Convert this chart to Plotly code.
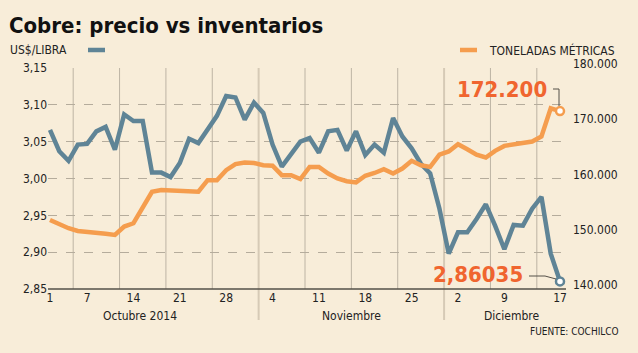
import plotly.graph_objects as go

# ---- data ----
days = list(range(56))  # trading days 1 Oct – 17 Dec 2014
precio = [3.066, 3.037, 3.024, 3.046, 3.047, 3.064, 3.070, 3.039, 3.087, 3.078,
          3.078, 3.008, 3.008, 3.002, 3.021, 3.054, 3.048, 3.066, 3.085, 3.112,
          3.110, 3.080, 3.103, 3.089, 3.046, 3.016, 3.032, 3.050, 3.055, 3.035,
          3.064, 3.066, 3.038, 3.064, 3.032, 3.046, 3.035, 3.082, 3.057, 3.041,
          3.020, 3.007, 2.959, 2.898, 2.927, 2.927, 2.945, 2.965, 2.936, 2.904,
          2.937, 2.936, 2.959, 2.975, 2.898, 2.86035]
toneladas = [152500, 151700, 151000, 150500, 150400, 150100, 150000, 149800, 151300, 151900,
             154600, 157600, 157900, 157800, 157700, 157700, 157600, 159700, 159700, 161500,
             162600, 162900, 162800, 162400, 162300, 160600, 160600, 159900, 162100, 162100,
             160900, 160000, 159500, 159300, 160500, 161000, 161700, 160900, 161800, 163200,
             162400, 162100, 164300, 164900, 166200, 165300, 164300, 163800, 165000, 165900,
             166200, 166600, 166700, 167600, 172700, 172200]
tick_idx = [0, 4, 9, 14, 19, 24, 29, 34, 39, 44, 49, 55]
tick_txt = ["1", "7", "14", "21", "28", "4", "11", "18", "25", "2", "9", "17"]
week_breaks = [2.5, 7.5, 12.5, 17.5, 22.5, 27.5, 32.5, 37.5, 42.5, 47.5, 52.5]
month_breaks = [22.5, 42.5]
months = ["Octubre 2014", "Noviembre", "Diciembre"]
month_centers = [9.7, 32.5, 49.8]

BG = "#F8EDD9"
BLUE = "#5F8496"
ORANGE = "#F59D4E"
RED = "#F0652F"
FONT = "DejaVu Sans Condensed"

W, H = 638, 353
L, R, T, B = 48, 72, 68, 64
PW, PH = W - L - R, H - T - B


def px(x):
    return (x - L) / PW


def py(y):
    return (H - B - y) / PH


fig = go.Figure()
fig.add_trace(go.Scatter(x=days, y=toneladas, yaxis="y2", mode="lines",
                         line=dict(color=ORANGE, width=4.5), hoverinfo="skip"))
fig.add_trace(go.Scatter(x=days, y=precio, mode="lines",
                         line=dict(color=BLUE, width=4.5), hoverinfo="skip"))
fig.add_trace(go.Scatter(x=[days[-1]], y=[toneladas[-1]], yaxis="y2", mode="markers",
                         marker=dict(color="white", size=8, line=dict(color=ORANGE, width=2.5)),
                         cliponaxis=False, hoverinfo="skip"))
fig.add_trace(go.Scatter(x=[days[-1]], y=[precio[-1]], mode="markers",
                         marker=dict(color="white", size=8, line=dict(color=BLUE, width=2.5)),
                         cliponaxis=False, hoverinfo="skip"))

shapes = []
for wb in week_breaks:
    if wb in month_breaks:
        shapes.append(dict(type="line", xref="x", yref="paper", x0=wb, x1=wb,
                           y0=py(320), y1=1, line=dict(color="#D6CAB6", width=2), layer="below"))
    else:
        shapes.append(dict(type="line", xref="x", yref="paper", x0=wb, x1=wb,
                           y0=0, y1=1, line=dict(color="#BDB4A4", width=1), layer="below"))
# axis base line
shapes.append(dict(type="line", xref="paper", yref="paper", x0=0, x1=1, y0=0, y1=0,
                   line=dict(color="#555049", width=1.5)))
# legend swatches
shapes.append(dict(type="line", xref="paper", yref="paper", x0=px(88), x1=px(105),
                   y0=py(50), y1=py(50), line=dict(color=BLUE, width=4.5)))
shapes.append(dict(type="line", xref="paper", yref="paper", x0=px(460), x1=px(477),
                   y0=py(50), y1=py(50), line=dict(color=ORANGE, width=4.5)))
# connectors
shapes.append(dict(type="path", xref="paper", yref="paper",
                   path=f"M {px(553)} {py(89)} L {px(559)} {py(89)} L {px(559)} {py(106)}",
                   line=dict(color="#555049", width=1)))
shapes.append(dict(type="path", xref="paper", yref="paper",
                   path=f"M {px(529)} {py(276)} L {px(545)} {py(276)} L {px(556)} {py(279)}",
                   line=dict(color="#555049", width=1)))

ann = []
ann.append(dict(text="<b>Cobre: precio vs inventarios</b>", xref="paper", yref="paper",
                x=px(7), y=py(25), xanchor="left", yanchor="middle", showarrow=False,
                font=dict(family=FONT, size=22, color="#111111")))
ann.append(dict(text="US$/LIBRA", xref="paper", yref="paper", x=px(8), y=py(50),
                xanchor="left", yanchor="middle", showarrow=False,
                font=dict(family=FONT, size=12, color="#222222")))
ann.append(dict(text="TONELADAS MÉTRICAS", xref="paper", yref="paper", x=px(617), y=py(50),
                xanchor="right", yanchor="middle", showarrow=False,
                font=dict(family=FONT, size=12, color="#222222")))
for m, c in zip(months, month_centers):
    ann.append(dict(text=m, xref="x", yref="paper", x=c, y=py(316), xanchor="center",
                    yanchor="middle", showarrow=False,
                    font=dict(family=FONT, size=12, color="#222222")))
ann.append(dict(text="FUENTE: COCHILCO", xref="paper", yref="paper", x=px(621), y=py(331),
                xanchor="right", yanchor="middle", showarrow=False,
                font=dict(family=FONT, size=10, color="#222222")))
ann.append(dict(text="<b>172.200</b>", xref="paper", yref="paper", x=px(549), y=py(89),
                xanchor="right", yanchor="middle", showarrow=False,
                font=dict(family=FONT, size=22, color=RED)))
ann.append(dict(text="<b>2,86035</b>", xref="paper", yref="paper", x=px(525), y=py(274),
                xanchor="right", yanchor="middle", showarrow=False,
                font=dict(family=FONT, size=22, color=RED)))

x0 = -2 / 9.27
x1 = 55 + 6 / 9.27
fig.update_layout(
    width=W, height=H, margin=dict(l=L, r=R, t=T, b=B),
    paper_bgcolor=BG, plot_bgcolor=BG, showlegend=False,
    separators=",.",
    font=dict(family=FONT, size=12, color="#222222"),
    xaxis=dict(range=[x0, x1], tickvals=tick_idx, ticktext=tick_txt, showgrid=False,
               zeroline=False, showline=False, ticks="", tickfont=dict(size=12)),
    yaxis=dict(range=[2.85, 3.15], dtick=0.05, tickformat=".2f", showgrid=True,
               gridcolor="#B5AC9C", griddash="dash", gridwidth=1, zeroline=False,
               showline=False, ticks="", tickfont=dict(size=12)),
    yaxis2=dict(range=[140000, 180000], dtick=10000, tickformat=",d", overlaying="y",
                side="right", showgrid=False, zeroline=False, showline=False, ticks="",
                ticklabelshift=-4, ticklabelstandoff=6, tickfont=dict(size=12)),
    shapes=shapes, annotations=ann,
)
fig.write_html("out.html")
